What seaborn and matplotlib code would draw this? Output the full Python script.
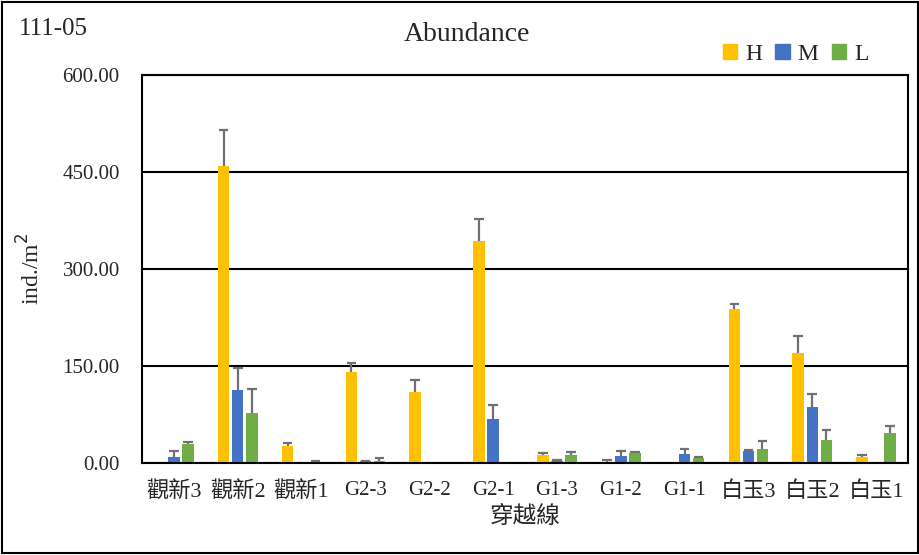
import numpy as np
import pandas as pd
import matplotlib
matplotlib.use("Agg")
import matplotlib.pyplot as plt
from matplotlib.patches import Rectangle
import seaborn as sns

# 穿越線 (transects) and abundance per tide level
sites = ["觀新3", "觀新2", "觀新1", "G2-3", "G2-2", "G2-1",
         "G1-3", "G1-2", "G1-1", "白玉3", "白玉2", "白玉1"]
levels = ["H", "M", "L"]
h_mean = [0, 460, 27, 141, 109, 343, 13, 2, 0, 238, 170, 9]
h_err = [0, 55, 4, 13, 19, 34, 2, 2, 0, 8, 26, 3]
m_mean = [10, 113, 0, 2.5, 0, 68, 3, 11, 14, 18, 87, 0]
m_err = [8, 34, 0, 0.5, 0, 22, 1.5, 7, 7, 2, 20, 0]
l_mean = [29, 77, 2, 3.5, 0, 0, 13, 15, 7, 21, 36, 47]
l_err = [4, 37, 1, 4.5, 0, 0, 3.5, 1.5, 3, 13, 15, 10]
colores = {"H": "#FFC000", "M": "#4472C4", "L": "#70AD47"}

means = {"H": h_mean, "M": m_mean, "L": l_mean}
errs = {"H": h_err, "M": m_err, "L": l_err}

df = pd.DataFrame([
    {"site": s, "level": lv, "value": means[lv][i]}
    for lv in levels for i, s in enumerate(sites)
])

sns.set_theme(style="white")
plt.rcParams["font.family"] = ["Liberation Serif", "Noto Sans CJK TC"]

fig = plt.figure(figsize=(9.2, 5.55), dpi=100)
ax = fig.add_axes([0.1543, 0.1658, 0.8327, 0.6991])

sns.barplot(data=df, x="site", y="value", hue="level", order=sites,
            hue_order=levels, palette=colores, saturation=1, errorbar=None,
            width=0.66, gap=0.18, ax=ax, legend=False, linewidth=0)

# barras de error solo hacia arriba (como Excel)
cap = 0.075
for lv, cont in zip(levels, ax.containers):
    for i, bar in enumerate(cont):
        e = errs[lv][i]
        if e <= 0:
            continue
        xc = bar.get_x() + bar.get_width() / 2
        top = means[lv][i] + e
        ax.vlines(xc, means[lv][i], top, color="#707070", linewidth=1.6, zorder=3)
        ax.hlines(top, xc - cap, xc + cap, color="#707070", linewidth=1.6, zorder=3)

ax.set_ylim(0, 600)
ax.set_xlim(-0.5, len(sites) - 0.5)
ax.set_yticks([0, 150, 300, 450, 600])
ax.set_yticklabels([f"{v:.2f}" for v in [0, 150, 300, 450, 600]])
ax.yaxis.grid(True, color="black", linewidth=1.5)
ax.set_axisbelow(True)
for sp in ax.spines.values():
    sp.set_visible(True)
    sp.set_color("black")
    sp.set_linewidth(1.5)
ax.tick_params(axis="y", length=0, pad=16, labelsize=15)
ax.tick_params(axis="x", length=0, pad=13, labelsize=15)
for t in ax.get_xticklabels():
    if not t.get_text().startswith("G"):
        t.set_fontsize(16)
ax.set_xlabel("穿越線", fontsize=17, labelpad=3)
ax.set_ylabel("ind./m$^2$", fontsize=17, labelpad=13)

fig.text(0.508, 0.937, "Abundance", ha="center", va="center", fontsize=20)
fig.text(0.02, 0.948, "111-05", ha="left", va="center", fontsize=18)

handles = [Rectangle((0, 0), 1, 1, color=colores[lv]) for lv in levels]
fig.legend(handles, levels, loc="center right", bbox_to_anchor=(0.962, 0.902),
           ncol=3, frameon=False, fontsize=17, handlelength=0.6,
           handleheight=0.6, handletextpad=0.35, columnspacing=0.55,
           borderpad=0.2)

fig.patches.append(Rectangle((0.002, 0.003), 0.996, 0.994, transform=fig.transFigure,
                             fill=False, edgecolor="black", linewidth=1.5))

fig.savefig("out.png", dpi=100)
